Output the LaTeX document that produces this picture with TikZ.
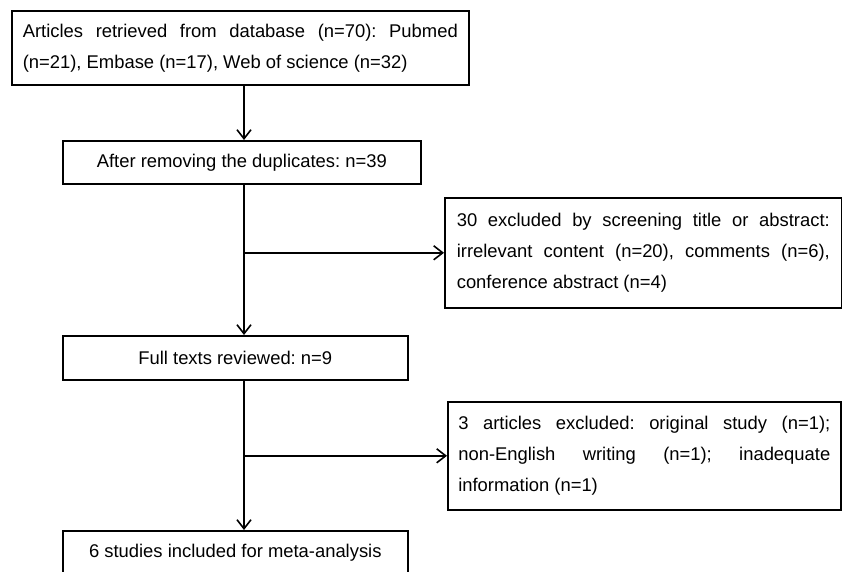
\documentclass[tikz,border=0pt]{standalone}
\usepackage{fontspec}
\setmainfont{Liberation Sans}
\usetikzlibrary{arrows.meta}

\begin{document}
\begin{tikzpicture}[x=1pt,y=-1pt,
  box/.style={draw,line width=1.6pt,anchor=north west,inner ysep=3pt,
    font={\fontsize{18.4}{31}\selectfont\frenchspacing\hyphenpenalty=10000\exhyphenpenalty=10000\tolerance=10000}},
  flow/.style={line width=1.6pt,-{Straight Barb[length=9pt,width=14pt,line width=1.6pt]}}]
  \useasboundingbox (0,0) rectangle (842,571);
  \node[box,text width=435pt,inner xsep=11pt,minimum height=74pt,align=justify] (search) at (11,10)
    {Articles retrieved from database (n=70): Pubmed\linebreak (n=21), Embase (n=17), Web of science (n=32)};
  \node[box,minimum width=358pt,minimum height=43pt,align=center] (dedup) at (62,140)
    {After removing the duplicates: n=39};
  \node[box,text width=373pt,inner xsep=12pt,minimum height=110pt,align=justify] (screen) at (444,197)
    {30 excluded by screening title or abstract:\linebreak irrelevant content (n=20), comments (n=6),\linebreak conference abstract (n=4)};
  \node[box,minimum width=345pt,minimum height=44pt,align=center] (fulltext) at (62,335)
    {Full texts reviewed: n=9};
  \node[box,text width=372pt,inner xsep=10.5pt,minimum height=108pt,align=justify] (excl) at (447,401)
    {3 articles excluded: original study (n=1);\linebreak non-English writing (n=1); inadequate\linebreak information (n=1)};
  \node[box,minimum width=345pt,minimum height=44pt,align=center] (included) at (62,530)
    {6 studies included for meta-analysis};
  \coordinate (spine) at (244,0);
  \draw[flow] (search.south -| spine) -- (dedup.north -| spine);
  \draw[flow] (dedup.south -| spine) -- (fulltext.north -| spine);
  \draw[flow] (spine |- screen.west) -- (screen.west);
  \draw[flow] (fulltext.south -| spine) -- (included.north -| spine);
  \draw[flow] (spine |- excl.west) -- (excl.west);
\end{tikzpicture}
\end{document}
